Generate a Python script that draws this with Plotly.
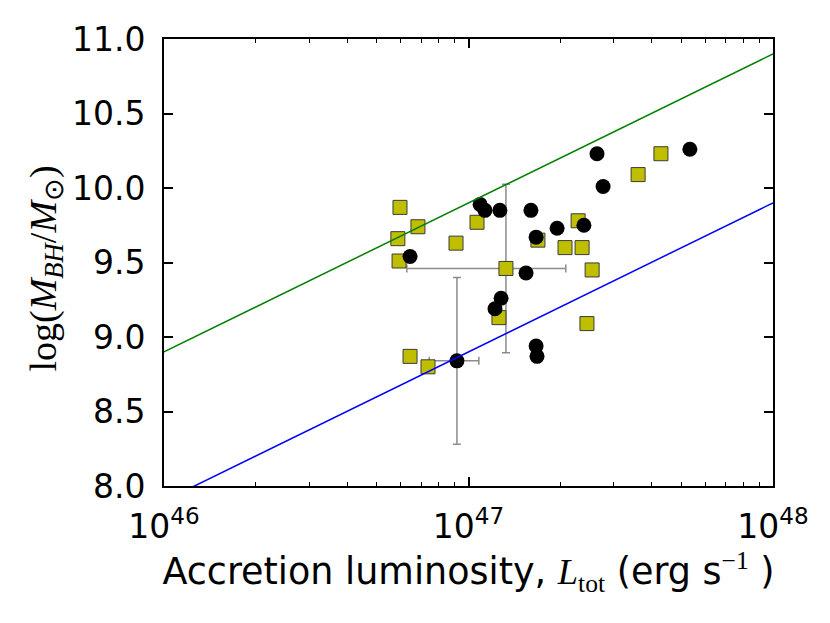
import plotly.graph_objects as go

# ---- data ----
# black circles: log10(L_tot / erg s^-1), log(M_BH/M_sun)
bh_logL = [47.727, 47.422, 47.442, 47.038, 47.054, 47.103, 47.205, 47.291, 47.379,
           47.222, 46.808, 47.189, 47.107, 47.087, 47.222, 47.225, 46.962]
bh_logM = [10.26, 10.23, 10.01, 9.89, 9.85, 9.85, 9.85, 9.73, 9.75,
           9.67, 9.54, 9.43, 9.26, 9.19, 8.94, 8.87, 8.84]

# yellow squares
sq_logL = [46.775, 46.834, 46.768, 46.772, 47.028, 46.959, 47.123, 47.228, 47.360,
           47.317, 47.373, 47.406, 47.100, 47.389, 46.808, 46.867, 47.557, 47.632]
sq_logM = [9.87, 9.74, 9.66, 9.51, 9.77, 9.63, 9.46, 9.65, 9.78,
           9.60, 9.60, 9.45, 9.13, 9.09, 8.87, 8.80, 10.09, 10.23]

# error bars (one square, one circle)
sq_err_index = 6
sq_err_Lminus = 0.70e47
sq_err_Lplus = 0.76e47
sq_err_M = 0.565
bh_err_index = 16
bh_err_Lminus = 0.173e47
bh_err_Lplus = 0.165e47
bh_err_M = 0.56

# reference lines
line_L = [1e46, 1e48]
green_M = [8.9, 10.9]
blue_M = [7.9, 9.9]

x_tickvals = [1e46, 1e47, 1e48]
x_ticktext = ["10<sup>46</sup>", "10<sup>47</sup>", "10<sup>48</sup>"]
x_minor_tickvals = [2e46, 3e46, 4e46, 5e46, 6e46, 7e46, 8e46, 9e46,
                    2e47, 3e47, 4e47, 5e47, 6e47, 7e47, 8e47, 9e47]
y_tickvals = [8.0, 8.5, 9.0, 9.5, 10.0, 10.5, 11.0]

bh_L = [10 ** v for v in bh_logL]
sq_L = [10 ** v for v in sq_logL]

FONT = "DejaVu Sans"
SERIF = "Liberation Serif"
FS = 33
ERRC = "#8c8c8c"

fig = go.Figure()

# error bars (drawn under the markers)
fig.add_trace(go.Scatter(
    x=[sq_L[sq_err_index], bh_L[bh_err_index]],
    y=[sq_logM[sq_err_index], bh_logM[bh_err_index]],
    mode="markers", marker=dict(size=1, opacity=0), showlegend=False, hoverinfo="skip",
    error_x=dict(type="data", symmetric=False,
                 array=[sq_err_Lplus, bh_err_Lplus],
                 arrayminus=[sq_err_Lminus, bh_err_Lminus],
                 color=ERRC, thickness=1.5, width=4),
    error_y=dict(type="data", array=[sq_err_M, bh_err_M],
                 color=ERRC, thickness=1.5, width=4),
))

fig.add_trace(go.Scatter(
    x=sq_L, y=sq_logM, mode="markers", showlegend=False,
    marker=dict(symbol="square", size=14, color="#bfbf00",
                line=dict(color="#3a3a3a", width=1)),
))
fig.add_trace(go.Scatter(
    x=bh_L, y=bh_logM, mode="markers", showlegend=False,
    marker=dict(symbol="circle", size=15, color="black",
                line=dict(color="black", width=0)),
))

fig.add_trace(go.Scatter(x=line_L, y=green_M, mode="lines", showlegend=False,
                         line=dict(color="#008000", width=1.5)))
fig.add_trace(go.Scatter(x=line_L, y=blue_M, mode="lines", showlegend=False,
                         line=dict(color="#0000ff", width=1.5)))

# page body has an 8px default margin: compensate so the plot area sits at
# x 164..773, y 35..486 in the 830x623 window
fig.update_layout(
    width=830, height=623,
    margin=dict(l=156, r=65, t=27, b=145),
    paper_bgcolor="white", plot_bgcolor="white",
    font=dict(family=FONT, size=FS, color="black"),
    showlegend=False,
)

fig.update_xaxes(
    type="log", range=[46, 48],
    tickvals=x_tickvals, ticktext=x_ticktext,
    ticks="inside", ticklen=9, tickwidth=2, tickcolor="black",
    minor=dict(tickvals=x_minor_tickvals, ticks="inside", ticklen=4, tickwidth=1,
               tickcolor="black", showgrid=False),
    showline=True, linecolor="black", linewidth=2, mirror="allticks",
    showgrid=False, zeroline=False,
    tickfont=dict(family=FONT, size=FS),
    ticklabelstandoff=10,
    title=dict(
        text=("Accretion luminosity, <span style=\"font-family:'Liberation Serif'\"><i>L</i>"
              "<sub>tot</sub></span> (erg s<sup><span style=\"font-family:'Liberation Serif'\">"
              "\u22121</span></sup> )"),
        font=dict(family=FONT, size=36.5), standoff=8),
)
fig.update_yaxes(
    range=[8, 11],
    tickvals=y_tickvals, tickformat=".1f",
    ticks="inside", ticklen=9, tickwidth=2, tickcolor="black",
    showline=True, linecolor="black", linewidth=2, mirror="allticks",
    showgrid=False, zeroline=False,
    tickfont=dict(family=FONT, size=FS),
    ticklabelstandoff=10,
)

fig.add_annotation(
    text="log(<i>M</i><sub><i>BH</i></sub>/<i>M</i><sub>\u2299</sub>)",
    font=dict(family=SERIF, size=38, color="black"),
    textangle=-90, showarrow=False,
    xref="paper", yref="paper", x=0, y=0.5,
    xanchor="center", yanchor="middle", xshift=-119, yshift=-6,
)

fig.write_html("out.html")
